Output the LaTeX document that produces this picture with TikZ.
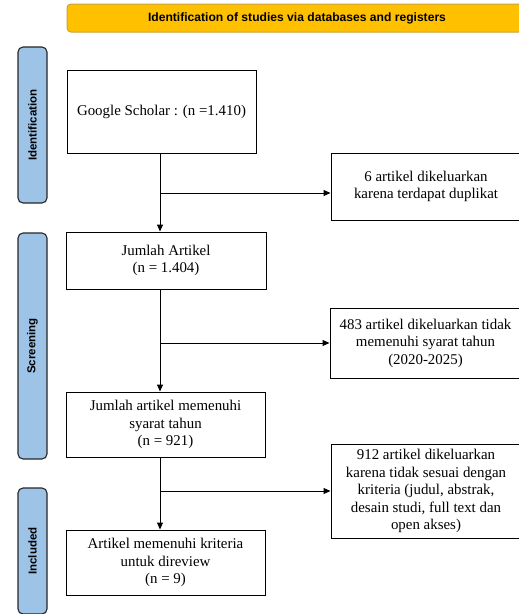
\documentclass[tikz,border=0pt]{standalone}
\usepackage{fontspec}
\setmainfont{Liberation Serif}
\setsansfont{Liberation Sans}
\usetikzlibrary{arrows.meta}

\definecolor{headgold}{HTML}{FFC000}
\definecolor{headline}{HTML}{C9A23A}
\definecolor{phaseblue}{HTML}{9DC3E6}

\begin{document}
\begin{tikzpicture}[x=1pt,y=-1pt,
box/.style={draw, line width=1pt, align=center, inner sep=2pt,
                font=\fontsize{14.9}{17.5}\selectfont},
phase/.style={draw=black!85, line width=1.1pt, fill=phaseblue,
                rounded corners=5pt, rotate=90, minimum height=29pt,
                font=\sffamily\bfseries\fontsize{11.5}{13}\selectfont},
arr/.style={line width=1pt, -{Triangle[length=7pt,width=6pt]}}]
    \useasboundingbox (0,0) rectangle (519,614);
    \clip (0,0) rectangle (519,614);
    % header
    \node[draw=headline, line width=1pt, fill=headgold, rounded corners=4pt,
          minimum width=460pt, minimum height=28pt,
          font=\sffamily\bfseries\fontsize{12.1}{14}\selectfont]
          (head) at (297,18) {Identification of studies via databases and registers};
    % phases
    \node[phase, minimum width=156pt] (idf) at (32.5,125) {Identification};
    \node[phase, minimum width=226pt] (scr) at (32.5,346) {Screening};
    \node[phase, minimum width=126pt] (inc) at (32.5,551) {Included};
    % main column
    \node[box, minimum width=189pt, minimum height=83pt] (gs) at (161.5,111.5)
        {Google Scholar : (n =1.410)};
    \node[box, minimum width=200pt, minimum height=57pt] (ja) at (166,260.5)
        {Jumlah Artikel\\(n = 1.404)};
    \node[box, minimum width=199pt, minimum height=65pt] (sy) at (165.5,424.5)
        {Jumlah artikel memenuhi\\syarat tahun\\(n = 921)};
    \node[box, minimum width=199pt, minimum height=65pt] (rev) at (165.5,562.5)
        {Artikel memenuhi kriteria\\untuk direview\\(n = 9)};
    % excluded
    \node[box, minimum width=190pt, minimum height=67pt] (dup) at (426,186.5)
        {6 artikel dikeluarkan\\karena terdapat duplikat};
    \node[box, minimum width=191pt, minimum height=70pt] (thn) at (425.5,343)
        {483 artikel dikeluarkan tidak\\memenuhi syarat tahun\\(2020-2025)};
    \node[box, minimum width=190pt, minimum height=94pt] (kr) at (426,491)
        {912 artikel dikeluarkan\\karena tidak sesuai dengan\\kriteria (judul, abstrak,\\desain studi, full text dan\\open akses)};
    % connectors
    \coordinate (spine) at (160,0);
    \coordinate (b1) at (160,193);
    \coordinate (b2) at (160,343);
    \coordinate (b3) at (160,491);
    \draw[arr] (gs.south -| spine) -- (ja.north -| spine);
    \draw[arr] (ja.south -| spine) -- (sy.north -| spine);
    \draw[arr] (sy.south -| spine) -- (rev.north -| spine);
    \draw[arr] (b1) -- (b1 -| dup.west);
    \draw[arr] (b2) -- (b2 -| thn.west);
    \draw[arr] (b3) -- (b3 -| kr.west);
\end{tikzpicture}
\end{document}
